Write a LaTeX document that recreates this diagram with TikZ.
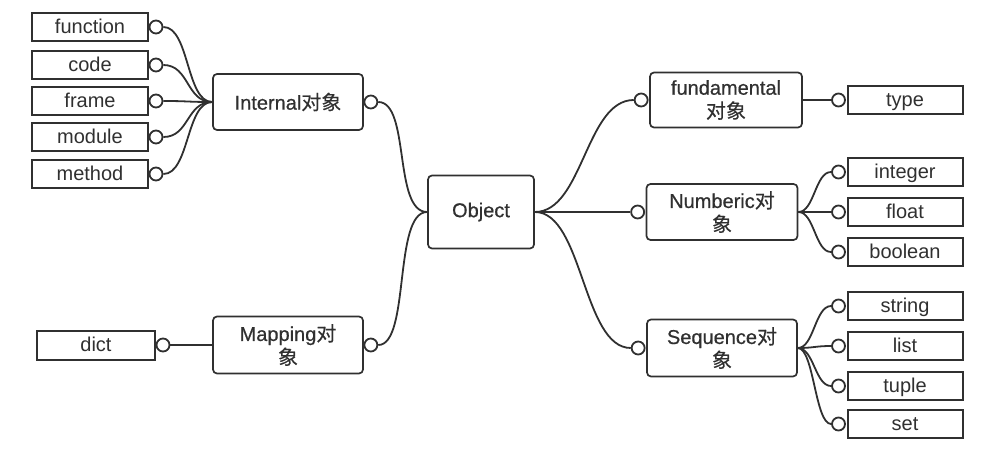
\documentclass[tikz,border=0pt]{standalone}
\usepackage{fontspec}
\setmainfont{Liberation Sans}
\newfontfamily\cjk{Noto Sans CJK SC}
\newfontfamily\midfont[FakeBold=0.6]{Liberation Sans}
\newfontfamily\cjkmid[FakeBold=0.4]{Noto Sans CJK SC}
\definecolor{ink}{HTML}{303030}
\begin{document}
\begin{tikzpicture}[x=1pt,y=-1pt,
  leafbox/.style={draw=ink, text=ink, line width=2pt, minimum width=116pt, minimum height=28pt, inner sep=0pt, font=\fontsize{20}{22}\selectfont, text height=14.5pt, text depth=2.2pt},
  midbox/.style={draw=ink, text=ink, rounded corners=4pt, line width=1.7pt, minimum width=150pt, minimum height=56pt, inner sep=0pt, align=center, font=\midfont\fontsize{20}{23.5}\selectfont},
  knob/.style={circle, draw=ink, fill=white, line width=1.8pt, minimum size=13pt, inner sep=0pt},
  conn/.style={draw=ink, line width=1.8pt}]
\useasboundingbox (0,0) rectangle (992,457);
% left leaves
\node[leafbox] (function) at (90,27) {function};
\node[leafbox] (code) at (90,65) {code};
\node[leafbox] (frame) at (90,101) {frame};
\node[leafbox] (module) at (90,137) {module};
\node[leafbox] (method) at (90,174) {method};
\node[leafbox, minimum width=118pt, minimum height=29pt] (dict) at (96,345) {dict};
% middle nodes
\node[midbox] (internal) at (288,102) {Internal{\cjkmid 对象}};
\node[midbox, minimum width=106pt, minimum height=73pt] (object) at (481,212) {Object};
\node[midbox, minimum height=57pt] (mapping) at (288,345) {Mapping{\cjkmid 对}\\{\cjkmid 象}};
\node[midbox, minimum width=152pt, minimum height=55pt] (fund) at (726,100) {fundamental\\{\cjkmid 对象}};
\node[midbox, minimum width=151pt] (numb) at (722,212) {Numberic{\cjkmid 对}\\{\cjkmid 象}};
\node[midbox, minimum height=57pt] (seq) at (722,348) {Sequence{\cjkmid 对}\\{\cjkmid 象}};
% right leaves
\node[leafbox, minimum width=115pt] (type) at (905,100) {type};
\node[leafbox, minimum width=115pt] (integer) at (905,172) {integer};
\node[leafbox, minimum width=115pt] (float) at (905,212) {float};
\node[leafbox, minimum width=115pt] (boolean) at (905,252) {boolean};
\node[leafbox, minimum width=115pt] (string) at (905,306) {string};
\node[leafbox, minimum width=115pt] (list) at (905,346) {list};
\node[leafbox, minimum width=115pt] (tuple) at (905,386) {tuple};
\node[leafbox, minimum width=115pt] (set) at (905,424) {set};
% knobs
\node[knob] (kfunction) at ([xshift=7pt]function.east) {};
\node[knob] (kcode) at ([xshift=7pt]code.east) {};
\node[knob] (kframe) at ([xshift=7pt]frame.east) {};
\node[knob] (kmodule) at ([xshift=7pt]module.east) {};
\node[knob] (kmethod) at ([xshift=7pt]method.east) {};
\node[knob] (kdict) at ([xshift=7pt]dict.east) {};
\node[knob] (kinternal) at ([xshift=7pt]internal.east) {};
\node[knob] (kmapping) at ([xshift=7pt]mapping.east) {};
\node[knob] (kfund) at ([xshift=-8pt]fund.west) {};
\node[knob] (knumb) at ([xshift=-8pt]numb.west) {};
\node[knob] (kseq) at ([xshift=-8pt]seq.west) {};
\node[knob] (ktype) at ([xshift=-8pt]type.west) {};
\node[knob] (kinteger) at ([xshift=-8pt]integer.west) {};
\node[knob] (kfloat) at ([xshift=-8pt]float.west) {};
\node[knob] (kboolean) at ([xshift=-8pt]boolean.west) {};
\node[knob] (kstring) at ([xshift=-8pt]string.west) {};
\node[knob] (klist) at ([xshift=-8pt]list.west) {};
\node[knob] (ktuple) at ([xshift=-8pt]tuple.west) {};
\node[knob] (kset) at ([xshift=-8pt]set.west) {};
% connectors left cluster
\foreach \k in {kfunction,kcode,kframe,kmodule,kmethod}
  \draw[conn] (\k.east) .. controls +(26,0) and +(-26,0) .. (internal.west);
\draw[conn] (kdict.east) -- (mapping.west);
\draw[conn] (kinternal.east) .. controls +(32,0) and +(-34,0) .. (object.west);
\draw[conn] (kmapping.east) .. controls +(32,0) and +(-34,0) .. (object.west);
% right
\draw[conn] (object.east) .. controls +(48,0) and +(-48,0) .. (kfund.west);
\draw[conn] (object.east) -- (knumb.west);
\draw[conn] (object.east) .. controls +(48,0) and +(-48,0) .. (kseq.west);
\draw[conn] (fund.east) -- (ktype.west);
\foreach \k in {kinteger,kfloat,kboolean}
  \draw[conn] (numb.east) .. controls +(16,0) and +(-16,0) .. (\k.west);
\foreach \k in {kstring,klist,ktuple,kset}
  \draw[conn] (seq.east) .. controls +(16,0) and +(-16,0) .. (\k.west);
\end{tikzpicture}
\end{document}
